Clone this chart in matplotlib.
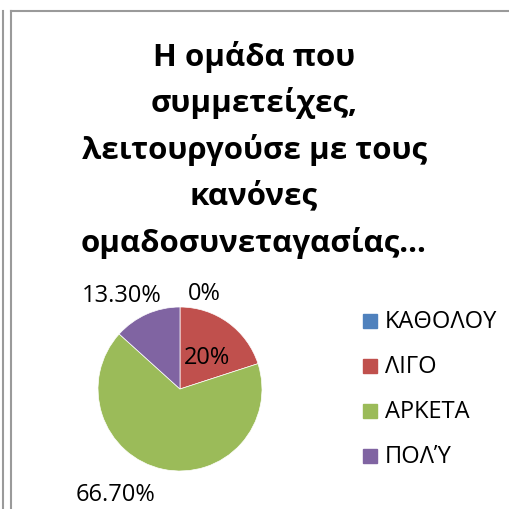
import matplotlib.pyplot as plt
from matplotlib.lines import Line2D

plt.rcParams['font.family'] = ['Open Sans', 'Noto Sans', 'DejaVu Sans']

# data
title_lines = ["Η ομάδα που", "συμμετείχες,", "λειτουργούσε με τους",
               "κανόνες", "ομαδοσυνεταγασίας…"]
categories = ['ΚΑΘΟΛΟΥ', 'ΛΙΓΟ', 'ΑΡΚΕΤΑ', 'ΠΟΛΎ']
values = [0, 20, 66.7, 13.3]
value_labels = ['0%', '20%', '66.70%', '13.30%']
colors = ['#4F81BD', '#C0504D', '#9BBB59', '#8064A2']

# label spots in pie radius units (as placed in the original chart)
label_pos = [(0.30, 1.17), (0.33, 0.39), (-0.79, -1.28), (-0.71, 1.15)]

W, H = 509, 510
fig = plt.figure(figsize=(W / 100, H / 100), dpi=100)

# frame lines like the pasted screenshot border
grey = '#9a9a9a'
def px_line(x0, y0, x1, y1):
    fig.add_artist(Line2D([x0 / W, x1 / W], [1 - y0 / H, 1 - y1 / H],
                          transform=fig.transFigure, color=grey, lw=1.5))
px_line(3, 12, 3, H)
px_line(11, 12, 11, H)
px_line(11, 12, W, 12)

for i, line in enumerate(title_lines):
    fig.text(254 / W, 1 - (57 + 46.5 * i) / H, line, ha='center', va='center',
             fontsize=22.5, fontweight='bold')

# pie
cx, cy, r = 180, 390, 82
ax = fig.add_axes([(cx - r) / W, (H - cy - r) / H, 2 * r / W, 2 * r / H])
wedges, _ = ax.pie(values, colors=colors, startangle=90, counterclock=False,
                   wedgeprops=dict(linewidth=0.5, edgecolor='white'))
ax.set_xlim(-1, 1)
ax.set_ylim(-1, 1)
ax.set_aspect('equal')
for txt, (x, y) in zip(value_labels, label_pos):
    ax.text(x, y, txt, ha='center', va='center', fontsize=17, clip_on=False)

# legend
for i, (name, col) in enumerate(zip(categories, colors)):
    y = 1 - (322 + 45 * i) / H
    fig.patches.append(plt.Rectangle((363 / W, y - 7 / H), 14 / W, 14 / H,
                                     transform=fig.transFigure, color=col))
    fig.text(385 / W, y, name, ha='left', va='center', fontsize=17)

fig.savefig('out.png', dpi=100)
